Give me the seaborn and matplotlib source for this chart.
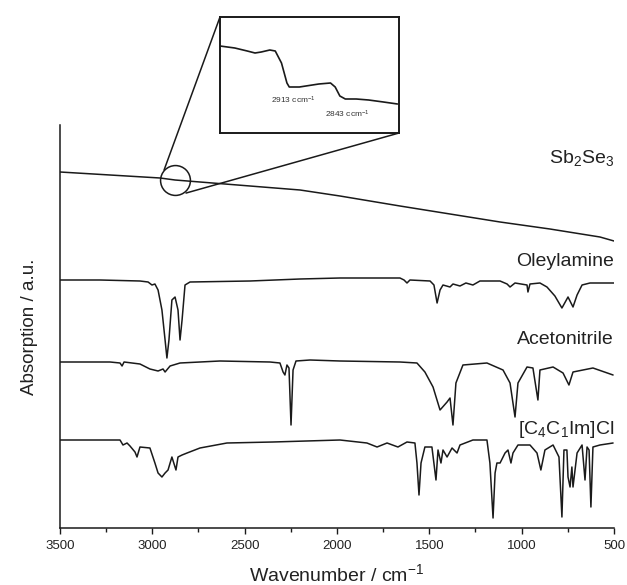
import numpy as np
import pandas as pd
import matplotlib
matplotlib.use("Agg")
import matplotlib.pyplot as plt
import matplotlib.transforms as mtransforms
from matplotlib.patches import ConnectionPatch
from matplotlib.ticker import MultipleLocator
import seaborn as sns

# ---------------- data (wavenumber cm^-1, offset absorption a.u.) ----------------
sb2se3_wn = [3500, 2958, 2877, 2742, 2471, 2200, 1984, 1659, 1388, 1117, 847, 576, 500]
sb2se3_val = [356, 350, 348, 346, 342, 338, 332, 322, 314, 306, 299, 291, 287]

oley_wn = [3500, 3283, 3067, 3023, 3002, 2986, 2969, 2948, 2931, 2921, 2910, 2894, 2877,
           2861, 2850, 2839, 2823, 2796, 2471, 2200, 1984, 1659, 1637, 1621, 1605, 1496,
           1475, 1458, 1442, 1426, 1388, 1372, 1334, 1302, 1264, 1226, 1117, 1079, 1063,
           1036, 971, 966, 955, 901, 863, 820, 782, 749, 722, 700, 673, 630, 500]
oley_val = [248, 248, 247, 246, 243, 244, 238, 218, 188, 170, 188, 228, 231,
            218, 188, 208, 243, 246, 247, 249, 250, 250, 248, 245, 248, 247,
            243, 225, 238, 243, 241, 244, 242, 245, 243, 247, 247, 244, 241,
            245, 243, 236, 244, 245, 241, 232, 220, 231, 221, 233, 243, 245, 245]

acn_wn = [3500, 3229, 3175, 3164, 3153, 3067, 3013, 2969, 2942, 2931, 2904, 2850, 2634,
          2363, 2309, 2292, 2282, 2271, 2260, 2249, 2238, 2222, 2146, 1984, 1659, 1567,
          1524, 1480, 1442, 1404, 1388, 1372, 1356, 1318, 1188, 1101, 1063, 1036, 1020,
          971, 939, 912, 901, 830, 776, 744, 722, 614, 505]
acn_val = [166, 166, 165, 162, 166, 164, 159, 157, 159, 156, 162, 165, 167,
           166, 165, 156, 153, 163, 160, 103, 158, 167, 168, 167, 166, 165,
           156, 141, 118, 126, 130, 103, 145, 163, 165, 158, 145, 111, 145,
           161, 160, 128, 158, 161, 155, 143, 156, 160, 153]

il_wn = [3500, 3175, 3159, 3137, 3121, 3094, 3083, 3067, 3013, 2986, 2969, 2948, 2931,
         2915, 2894, 2872, 2861, 2839, 2812, 2742, 2596, 2347, 1984, 1838, 1783, 1729,
         1670, 1621, 1578, 1567, 1556, 1545, 1524, 1486, 1464, 1453, 1437, 1426, 1404,
         1377, 1350, 1334, 1264, 1188, 1172, 1155, 1144, 1134, 1117, 1090, 1074, 1058,
         1047, 1020, 955, 917, 896, 874, 830, 798, 782, 771, 755, 749, 738, 728, 722,
         700, 673, 657, 646, 635, 625, 614, 576, 505]
il_val = [88, 88, 83, 85, 82, 76, 71, 81, 80, 65, 55, 51, 55,
          58, 71, 58, 71, 73, 75, 80, 85, 86, 88, 85, 81, 85,
          81, 86, 85, 65, 33, 65, 81, 81, 48, 78, 65, 78, 71,
          80, 75, 83, 88, 88, 65, 10, 55, 65, 65, 75, 78, 65,
          75, 83, 83, 75, 58, 78, 83, 71, 11, 78, 78, 51, 41, 61, 41,
          75, 83, 48, 81, 78, 21, 81, 83, 85]

# zoomed inset of Sb2Se3 C-H region
inset_wn = [3000, 2981, 2965, 2955, 2947, 2936, 2929, 2921, 2914, 2911, 2898, 2873,
            2858, 2852, 2846, 2839, 2825, 2809, 2790, 2772]
inset_val = [87, 85, 82, 80, 81, 83, 82, 70, 50, 46, 46, 49,
             50, 46, 37, 34, 34, 33, 31, 29]

series_names = ["Sb$_2$Se$_3$", "Oleylamine", "Acetonitrile", "[C$_4$C$_1$Im]Cl"]
label_y = [370, 266, 188, 98]
peak_labels = ["2913 ccm$^{-1}$", "2843 ccm$^{-1}$"]
peak_label_wn = [2934, 2865]
peak_label_y = [33, 19]
zoom_wn, zoom_val = 2877, 348

x_ticks = [3500, 3000, 2500, 2000, 1500, 1000, 500]

# ---------------- style ----------------
sns.set_style("ticks")
plt.rcParams["font.family"] = ["Liberation Sans", "DejaVu Sans"]
plt.rcParams["mathtext.fontset"] = "custom"
plt.rcParams["mathtext.rm"] = "Liberation Sans"
plt.rcParams["mathtext.it"] = "Liberation Sans:italic"
plt.rcParams["mathtext.bf"] = "Liberation Sans:bold"

line_c = "#1a1a1a"
text_c = "#222222"

fig = plt.figure(figsize=(6.27, 5.85), dpi=100)
ax = fig.add_axes([60 / 627, 1 - 528 / 585, 554 / 627, 403 / 585])

frames = [
    pd.DataFrame({"wn": sb2se3_wn, "val": sb2se3_val}),
    pd.DataFrame({"wn": oley_wn, "val": oley_val}),
    pd.DataFrame({"wn": acn_wn, "val": acn_val}),
    pd.DataFrame({"wn": il_wn, "val": il_val}),
]
for df in frames:
    sns.lineplot(data=df, x="wn", y="val", ax=ax, color=line_c, lw=1.1,
                 estimator=None, sort=False)

ax.set_xlim(3500, 500)
ax.set_ylim(0, 403)
ax.set_xticks(x_ticks)
ax.xaxis.set_minor_locator(MultipleLocator(250))
ax.set_yticks([])
ax.tick_params(axis="x", which="major", direction="out", length=4.5, width=1.0,
               labelsize=9.5, labelcolor=text_c, color=line_c, pad=4)
ax.tick_params(axis="x", which="minor", direction="out", length=2.8, width=1.0,
               color=line_c)
for s in ["top", "right"]:
    ax.spines[s].set_visible(False)
for s in ["left", "bottom"]:
    ax.spines[s].set_linewidth(1.1)
    ax.spines[s].set_color(line_c)

ax.set_xlabel("Wavenumber / cm$^{-1}$", fontsize=14, color=text_c, labelpad=8)
ax.set_ylabel("Absorption / a.u.", fontsize=13.5, color=text_c, labelpad=16)

for name, yv in zip(series_names, label_y):
    ax.text(500, yv, name, ha="right", va="center", fontsize=14, color=text_c)

# zoom circle
ax.plot([zoom_wn], [zoom_val], marker="o", ms=21.5, mfc="none", mec=line_c,
        mew=1.1, ls="none")

# inset
axi = fig.add_axes([220 / 627, 1 - 133 / 585, 179 / 627, 116 / 585])
sns.lineplot(x=inset_wn, y=inset_val, ax=axi, color=line_c, lw=1.2,
             estimator=None, sort=False)
axi.set_xlim(3000, 2770)
axi.set_ylim(0, 116)
axi.set_xticks([])
axi.set_yticks([])
axi.set_xlabel("")
axi.set_ylabel("")
for s in axi.spines.values():
    s.set_visible(True)
    s.set_linewidth(1.4)
    s.set_color(line_c)
for t, xw, yv in zip(peak_labels, peak_label_wn, peak_label_y):
    axi.text(xw, yv, t, ha="left", va="center", fontsize=6, color="#333333")

# connector lines from circle to inset corners
tr_a = mtransforms.offset_copy(ax.transData, fig=fig, x=-7.9, y=7.2, units="points")
tr_b = mtransforms.offset_copy(ax.transData, fig=fig, x=7.9, y=-9.4, units="points")
c1 = ConnectionPatch(xyA=(zoom_wn, zoom_val), coordsA=tr_a, xyB=(0, 1),
                     coordsB=axi.transAxes, color=line_c, lw=1.1)
c2 = ConnectionPatch(xyA=(zoom_wn, zoom_val), coordsA=tr_b, xyB=(1, 0),
                     coordsB=axi.transAxes, color=line_c, lw=1.1)
fig.add_artist(c1)
fig.add_artist(c2)

fig.savefig("out.png", dpi=100)
